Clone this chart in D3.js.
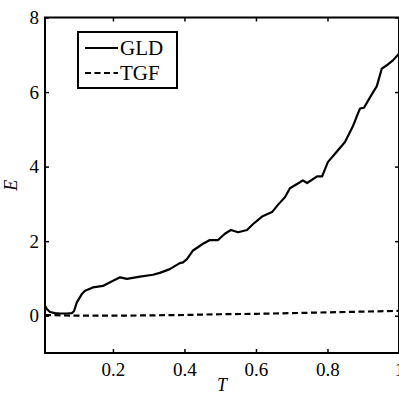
<!DOCTYPE html>
<html>
<head>
<meta charset="utf-8">
<script src="https://cdn.jsdelivr.net/npm/d3@7"></script>
<style>
  body { margin: 0; background: #fff; }
  svg { display: block; }
  svg text { font-family: "Liberation Serif", "DejaVu Serif", "Times New Roman", Times, serif; fill: #000; }
</style>
</head>
<body>
<svg width="399" height="395"></svg>
<script>
// GLD curve (T, E)
const gldT = [0.01, 0.015, 0.024, 0.038, 0.052, 0.071, 0.085, 0.091, 0.099, 0.113, 0.122, 0.144,
  0.172, 0.192, 0.22, 0.239, 0.276, 0.312, 0.331, 0.359, 0.387, 0.396, 0.407, 0.424, 0.452,
  0.471, 0.494, 0.513, 0.53, 0.55, 0.575, 0.592, 0.617, 0.645, 0.662, 0.681, 0.695, 0.723,
  0.731, 0.743, 0.771, 0.785, 0.801, 0.824, 0.849, 0.871, 0.885, 0.891, 0.902, 0.921, 0.938,
  0.952, 0.969, 0.983, 1.0];
const gldE = [0.27, 0.18, 0.10, 0.07, 0.06, 0.06, 0.07, 0.12, 0.36, 0.58, 0.67, 0.76,
  0.80, 0.90, 1.03, 0.99, 1.05, 1.10, 1.15, 1.25, 1.41, 1.43, 1.52, 1.75, 1.93,
  2.03, 2.03, 2.20, 2.30, 2.24, 2.30, 2.46, 2.66, 2.78, 2.98, 3.18, 3.42, 3.58,
  3.63, 3.56, 3.74, 3.74, 4.12, 4.38, 4.66, 5.08, 5.42, 5.56, 5.58, 5.89, 6.16,
  6.63, 6.74, 6.85, 7.03];

// TGF curve
const tgfT = [0.01, 0.1, 0.2, 0.3, 0.4, 0.5, 0.6, 0.7, 0.8, 0.9, 1.0];
const tgfE = [0.02, 0.0, 0.0, 0.01, 0.02, 0.04, 0.05, 0.07, 0.09, 0.11, 0.13];

const xTicks = [0.2, 0.4, 0.6, 0.8, 1];
const yTicks = [0, 2, 4, 6, 8];
const seriesNames = ['GLD', 'TGF'];

const serif = '"Liberation Serif", "DejaVu Serif", "Times New Roman", Times, serif';

const svg = d3.select('svg');
const margin = { top: 17.5, right: 0, bottom: 42, left: 45 };
const width = +svg.attr('width');
const height = +svg.attr('height');
const innerWidth = width - margin.left - margin.right;
const innerHeight = height - margin.top - margin.bottom;

const xScale = d3.scaleLinear().domain([0.01, 1]).range([0, innerWidth]);
const yScale = d3.scaleLinear().domain([-1, 8]).range([innerHeight, 0]);

const g = svg.append('g')
  .attr('transform', `translate(${margin.left},${margin.top})`);

const line = d3.line()
  .x(d => xScale(d[0]))
  .y(d => yScale(d[1]));

const gld = gldT.map((t, i) => [t, gldE[i]]);
const tgf = tgfT.map((t, i) => [t, tgfE[i]]);

g.append('path')
  .datum(tgf)
  .attr('d', line)
  .attr('fill', 'none')
  .attr('stroke', '#000')
  .attr('stroke-width', 2.2)
  .attr('stroke-dasharray', '6,3.5');

g.append('path')
  .datum(gld)
  .attr('d', line)
  .attr('fill', 'none')
  .attr('stroke', '#000')
  .attr('stroke-width', 2.2)
  .attr('stroke-linejoin', 'round');

// axes, ticks pointing inward on all four sides
const tickLen = 4;
const fmt = d => d === 1 ? '1' : d3.format('.1f')(d);

const xAxisG = g.append('g')
  .attr('transform', `translate(0,${innerHeight})`)
  .call(d3.axisBottom(xScale).tickValues(xTicks).tickSize(-tickLen).tickPadding(10).tickFormat(fmt));
const xTopG = g.append('g')
  .call(d3.axisTop(xScale).tickValues(xTicks).tickSize(-tickLen).tickFormat(''));
const yAxisG = g.append('g')
  .call(d3.axisLeft(yScale).tickValues(yTicks).tickSize(-tickLen).tickPadding(6));
const yRightG = g.append('g')
  .attr('transform', `translate(${innerWidth},0)`)
  .call(d3.axisRight(yScale).tickValues(yTicks).tickSize(-tickLen).tickFormat(''));

[xAxisG, xTopG, yAxisG, yRightG].forEach(a => {
  a.attr('font-family', serif).attr('font-size', 19);
  a.selectAll('.domain').remove();
  a.selectAll('.tick line').attr('stroke', '#000').attr('stroke-width', 1.5);
});
xAxisG.selectAll('text').attr('dy', '0.71em');

g.append('rect')
  .attr('x', 0).attr('y', 0)
  .attr('width', innerWidth).attr('height', innerHeight)
  .attr('fill', 'none')
  .attr('stroke', '#000')
  .attr('stroke-width', 2);

// axis labels
g.append('text')
  .attr('x', innerWidth / 2)
  .attr('y', innerHeight + 38)
  .attr('text-anchor', 'middle')
  .attr('font-size', 18)
  .attr('font-style', 'italic')
  .text('T');

g.append('text')
  .attr('transform', `translate(${-28},${innerHeight / 2}) rotate(-90)`)
  .attr('text-anchor', 'middle')
  .attr('font-size', 18)
  .attr('font-style', 'italic')
  .text('E');

// legend
const legend = svg.append('g').attr('transform', 'translate(78,32)');
legend.append('rect')
  .attr('width', 99).attr('height', 56)
  .attr('fill', '#fff')
  .attr('stroke', '#000')
  .attr('stroke-width', 2);

seriesNames.forEach((name, i) => {
  const yy = 16 + i * 25;
  legend.append('line')
    .attr('x1', 7).attr('x2', 40)
    .attr('y1', yy).attr('y2', yy)
    .attr('stroke', '#000')
    .attr('stroke-width', 2.2)
    .attr('stroke-dasharray', i === 1 ? '6,3.5' : null);
  legend.append('text')
    .attr('x', 42)
    .attr('y', yy)
    .attr('dy', '0.35em')
    .attr('font-size', 21)
    .text(name);
});
</script>
</body>
</html>
